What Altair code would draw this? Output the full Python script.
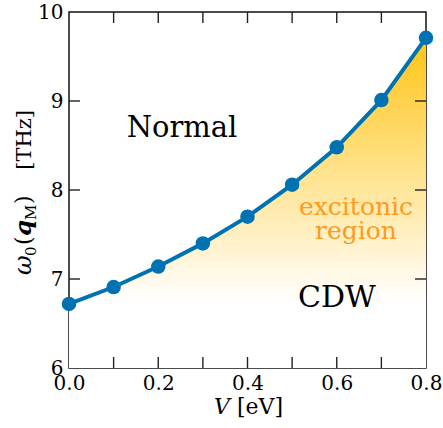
import altair as alt
import pandas as pd

# ---- data ----
V = [0.0, 0.1, 0.2, 0.3, 0.4, 0.5, 0.6, 0.7, 0.8]
omega = [6.72, 6.91, 7.14, 7.40, 7.70, 8.06, 8.48, 9.01, 9.71]
x_minor_ticks = [0.1, 0.2, 0.3, 0.4, 0.5, 0.6, 0.7]
y_minor_ticks = [7, 8, 9]
x_label_values = [0.0, 0.2, 0.4, 0.6, 0.8]
y_label_values = [6, 7, 8, 9, 10]

FONT = "DejaVu Serif"
BLUE = "#0072B2"
W, H = 357, 356
TL = 11  # inward tick length

df = pd.DataFrame({"V": V, "w": omega})
xs = alt.Scale(domain=[0, 0.8], nice=False, zero=False)
ys = alt.Scale(domain=[6, 10], nice=False, zero=False)

x_axis = alt.Axis(values=x_label_values, format=".1f", title=None,
                  labelPadding=5, domain=False, ticks=False, grid=False,
                  labelFont=FONT, labelFontSize=20, labelColor="black",
                  labelFlush=False, labelOverlap=False)
y_axis = alt.Axis(values=y_label_values, format="d", title=None,
                  labelPadding=6, domain=False, ticks=False, grid=False,
                  labelFont=FONT, labelFontSize=20, labelColor="black",
                  labelFlush=False, labelOverlap=False)

base = alt.Chart(df)

area = base.mark_area(
    color=alt.Gradient(
        gradient="linear",
        stops=[
            alt.GradientStop(color="#FFC414", offset=0),
            alt.GradientStop(color="#FFFFFF", offset=0.8),
            alt.GradientStop(color="#FFFFFF", offset=1),
        ],
        x1=1, x2=1, y1=0, y2=1,
    )
).encode(
    x=alt.X("V:Q", scale=xs, axis=x_axis),
    y=alt.Y("w:Q", scale=ys, axis=y_axis),
    y2=alt.datum(6),
)

line = base.mark_line(color=BLUE, strokeWidth=4).encode(
    x=alt.X("V:Q", scale=xs, axis=x_axis),
    y=alt.Y("w:Q", scale=ys, axis=y_axis),
)
points = base.mark_circle(color=BLUE, size=210, opacity=1).encode(
    x=alt.X("V:Q", scale=xs, axis=x_axis),
    y=alt.Y("w:Q", scale=ys, axis=y_axis),
)

xt = alt.Chart(pd.DataFrame({"t": x_minor_ticks}))
yt = alt.Chart(pd.DataFrame({"t": y_minor_ticks}))
tick_style = dict(color="#222222", strokeWidth=1.4)
ticks = [
    xt.mark_rule(**tick_style).encode(x=alt.X("t:Q", scale=xs, axis=x_axis),
                                      y=alt.value(H), y2=alt.value(H - TL)),
    xt.mark_rule(**tick_style).encode(x=alt.X("t:Q", scale=xs, axis=x_axis),
                                      y=alt.value(0), y2=alt.value(TL)),
    yt.mark_rule(**tick_style).encode(y=alt.Y("t:Q", scale=ys, axis=y_axis),
                                      x=alt.value(0), x2=alt.value(TL)),
    yt.mark_rule(**tick_style).encode(y=alt.Y("t:Q", scale=ys, axis=y_axis),
                                      x=alt.value(W), x2=alt.value(W - TL)),
]

one = alt.Chart(pd.DataFrame({"a": [0]}))


def txt(s, x, y, size, color="black", style="normal", weight="normal",
        align="center", angle=0, baseline="alphabetic", font=FONT):
    kw = dict(text=s, font=font, fontSize=size, color=color, fontStyle=style,
              fontWeight=weight, align=align, baseline=baseline)
    if angle:
        kw["angle"] = angle
    return one.mark_text(**kw).encode(x=alt.value(x), y=alt.value(y))


OX, OY = 69, 12  # plot origin in the page
annotations = [
    txt("Normal", 182 - OX, 137 - OY, 29),
    txt("excitonic", 356 - OX, 215 - OY, 25, color="#FF9A1A"),
    txt("region", 356 - OX, 239 - OY, 25, color="#FF9A1A"),
    txt("CDW", 337 - OX, 307 - OY, 30),
    # x axis title: V [eV]
    txt("V", 214 - OX, 414 - OY, 22, style="italic", align="left"),
    txt("[eV]", 237 - OX, 414 - OY, 22, align="left"),
    # y axis title: omega_0(q_M) [THz], rotated
    txt("ω", 31 - OX, 275 - OY, 24, style="italic", align="left", angle=270),
    txt("0", 36 - OX, 256 - OY, 15, align="left", angle=270),
    txt("(", 31 - OX, 245 - OY, 22, align="left", angle=270),
    txt("q", 31 - OX, 236 - OY, 23, style="italic", weight="bold",
        align="left", angle=270),
    txt("M", 36 - OX, 220 - OY, 15, align="left", angle=270),
    txt(")", 31 - OX, 204 - OY, 22, align="left", angle=270),
    txt("[THz]", 31 - OX, 110 - OY, 21, align="right", angle=270),
]

chart = alt.layer(area, line, points, *ticks, *annotations).properties(
    width=W, height=H,
    autosize=alt.AutoSizeParams(type="none"),
    padding={"left": OX, "top": OY, "right": 443 - OX - W, "bottom": 428 - OY - H},
    background="white",
).configure_view(
    stroke="#111111", strokeWidth=1.5
)

chart.save("out.html", embed_options={"renderer": "svg", "actions": False})
